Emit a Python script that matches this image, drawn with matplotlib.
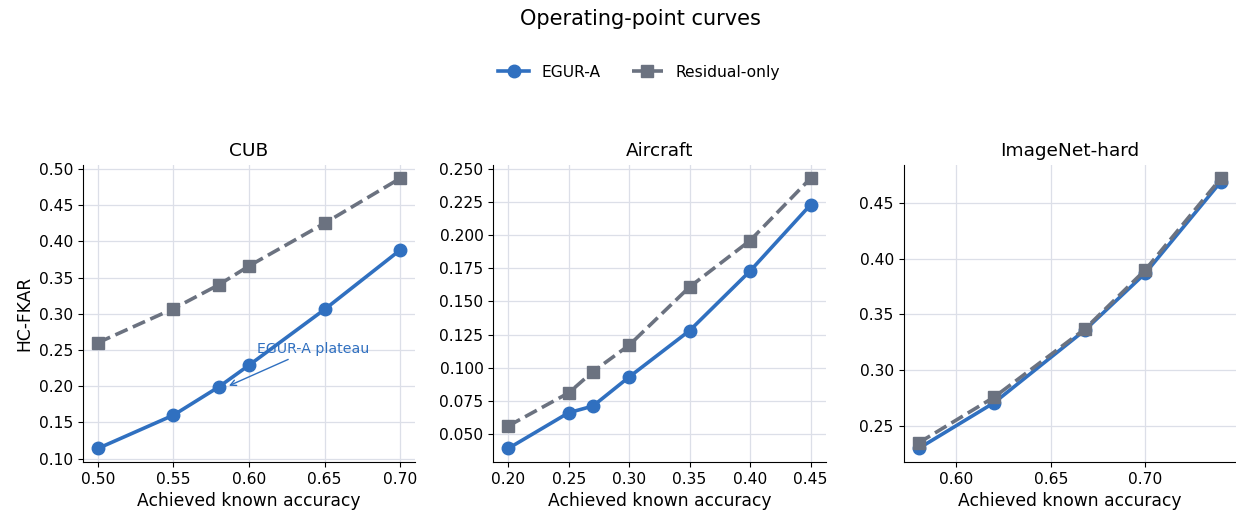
import matplotlib
matplotlib.use("Agg")
import matplotlib.pyplot as plt
from matplotlib.ticker import MultipleLocator, FormatStrFormatter

plt.rcParams["font.family"] = ["DejaVu Sans"]

# data
datasets = ["CUB", "Aircraft", "ImageNet-hard"]

cub_acc = [0.50, 0.55, 0.58, 0.60, 0.65, 0.70]
cub_egur = [0.114, 0.160, 0.199, 0.229, 0.306, 0.388]
cub_resid = [0.260, 0.307, 0.340, 0.366, 0.425, 0.487]

air_acc = [0.20, 0.25, 0.27, 0.30, 0.35, 0.40, 0.45]
air_egur = [0.039, 0.066, 0.071, 0.093, 0.128, 0.173, 0.223]
air_resid = [0.056, 0.081, 0.097, 0.117, 0.161, 0.196, 0.243]

inet_acc = [0.58, 0.62, 0.668, 0.70, 0.74]
inet_egur = [0.230, 0.271, 0.336, 0.387, 0.469]
inet_resid = [0.235, 0.276, 0.337, 0.390, 0.472]

blue = "#3070c0"
grey = "#6b7280"

fig = plt.figure(figsize=(12.36, 5.15), dpi=100)
lefts = [0.067, 0.399, 0.731]
axes = [fig.add_axes([l, 0.103, 0.269, 0.577]) for l in lefts]

series = [(cub_acc, cub_egur, cub_resid),
          (air_acc, air_egur, air_resid),
          (inet_acc, inet_egur, inet_resid)]

for ax, name, (x, e, r) in zip(axes, datasets, series):
    ax.plot(x, e, color=blue, lw=2.6, marker="o", ms=9, label="EGUR-A", zorder=3)
    ax.plot(x, r, color=grey, lw=2.6, ls="--", marker="s", ms=9, label="Residual-only", zorder=3)
    ax.set_title(name, fontsize=13.3)
    ax.set_xlabel("Achieved known accuracy", fontsize=12.3)
    ax.grid(True, color="#dcdfe8", lw=0.9)
    ax.set_axisbelow(True)
    for s in ["top", "right"]:
        ax.spines[s].set_visible(False)
    ax.tick_params(labelsize=11.2)
    ax.xaxis.set_major_locator(MultipleLocator(0.05))
    ax.xaxis.set_major_formatter(FormatStrFormatter("%.2f"))

axes[0].set_ylabel("HC-FKAR", fontsize=12.3)

# CUB
axes[0].yaxis.set_major_locator(MultipleLocator(0.05))
axes[0].yaxis.set_major_formatter(FormatStrFormatter("%.2f"))
axes[0].annotate("EGUR-A plateau", xy=(0.585, 0.199), xytext=(0.605, 0.252),
                 color=blue, fontsize=10.2, va="center",
                 arrowprops=dict(arrowstyle="->", color=blue, lw=1))

# Aircraft
axes[1].yaxis.set_major_locator(MultipleLocator(0.025))
axes[1].yaxis.set_major_formatter(FormatStrFormatter("%.3f"))

# ImageNet-hard
axes[2].yaxis.set_major_locator(MultipleLocator(0.05))
axes[2].yaxis.set_major_formatter(FormatStrFormatter("%.2f"))

handles, labels = axes[0].get_legend_handles_labels()
fig.legend(handles, labels, loc="center", bbox_to_anchor=(0.517, 0.86), ncol=2,
           frameon=False, fontsize=11.2)
fig.suptitle("Operating-point curves", fontsize=15, x=0.518, y=0.983)

fig.savefig("out.png", dpi=100)
